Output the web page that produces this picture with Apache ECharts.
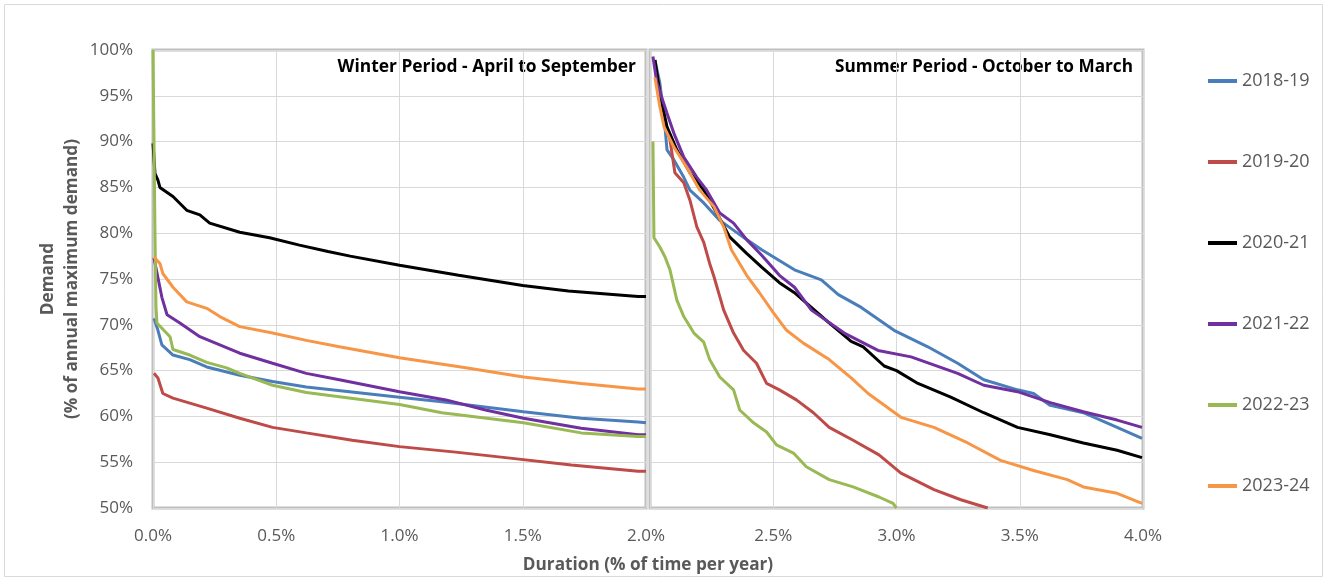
<!DOCTYPE html>
<html>
<head>
<meta charset="utf-8">
<script src="https://cdn.jsdelivr.net/npm/echarts@6/dist/echarts.min.js"></script>
<style>
html,body{margin:0;padding:0;background:#fff;}
#chart{width:1325px;height:581px;}
</style>
</head>
<body>
<div id="chart"></div>
<script>
// ---- Data (x = duration % of time per year, y = demand % of annual max) ----
var seriesNames = ['2018-19', '2019-20', '2020-21', '2021-22', '2022-23', '2023-24'];
var seriesColors = ['#4A7EBB', '#BE4B48', '#000000', '#7030A0', '#98B954', '#F79646'];

var xTicksWinter = [0, 0.5, 1.0, 1.5, 2.0];
var xTicksSummer = [2.0, 2.5, 3.0, 3.5, 4.0];
var yTicks = [50, 55, 60, 65, 70, 75, 80, 85, 90, 95, 100];

// Winter period (April to September), plotted 0% - 2%
var winter_2018_19 = [[0.004,70.7],[0.02,69.4],[0.036,67.8],[0.081,66.7],[0.149,66.2],[0.218,65.4],[0.352,64.5],[0.485,63.8],[0.622,63.2],[1.0,62.1],[1.172,61.6],[1.503,60.5],[1.737,59.8],[1.968,59.4],[2.0,59.3]];
var winter_2019_20 = [[0.004,64.7],[0.02,64.2],[0.04,62.5],[0.081,62.0],[0.218,60.9],[0.352,59.8],[0.485,58.8],[0.622,58.2],[0.808,57.4],[1.0,56.7],[1.228,56.1],[1.43,55.5],[1.697,54.7],[1.968,54.0],[2.0,54.0]];
var winter_2020_21 = [[0.0,89.8],[0.008,86.5],[0.02,85.8],[0.028,85.0],[0.081,84.0],[0.137,82.5],[0.19,82.0],[0.23,81.1],[0.352,80.1],[0.473,79.5],[0.594,78.7],[0.71,78.0],[0.8,77.5],[1.0,76.5],[1.24,75.4],[1.5,74.3],[1.685,73.7],[1.968,73.1],[2.0,73.1]];
var winter_2021_22 = [[0.004,77.3],[0.036,73.0],[0.057,71.1],[0.109,70.2],[0.19,68.7],[0.271,67.8],[0.352,66.9],[0.485,65.8],[0.622,64.7],[0.756,64.0],[1.0,62.7],[1.188,61.8],[1.349,60.7],[1.503,59.8],[1.737,58.7],[1.968,58.0],[2.0,58.0]];
var winter_2022_23 = [[0.0,100],[0.004,90],[0.008,80],[0.012,72],[0.016,70.2],[0.069,68.7],[0.081,67.3],[0.149,66.7],[0.218,65.9],[0.299,65.3],[0.352,64.7],[0.485,63.4],[0.622,62.6],[1.0,61.3],[1.172,60.4],[1.503,59.3],[1.737,58.2],[1.968,57.8],[2.0,57.8]];
var winter_2023_24 = [[0.004,77.4],[0.028,76.7],[0.04,75.6],[0.081,74.1],[0.137,72.5],[0.218,71.8],[0.271,70.9],[0.352,69.8],[0.485,69.1],[0.622,68.3],[0.756,67.6],[1.0,66.4],[1.269,65.3],[1.503,64.3],[1.737,63.6],[1.968,63.0],[2.0,63.0]];

// Summer period (October to March), plotted 2% - 4%
var summer_2018_19 = [[2.02,98.9],[2.04,96.4],[2.057,92.7],[2.069,89.1],[2.097,88.0],[2.137,86.1],[2.162,84.7],[2.218,83.3],[2.283,81.4],[2.392,79.3],[2.453,78.2],[2.586,76.0],[2.695,74.9],[2.764,73.3],[2.857,71.9],[2.99,69.4],[3.127,67.6],[3.248,65.8],[3.354,64.0],[3.491,62.9],[3.556,62.5],[3.624,61.2],[3.758,60.4],[3.895,58.8],[3.996,57.6]];
var summer_2019_20 = [[2.02,98.7],[2.057,92.7],[2.081,90.2],[2.101,86.6],[2.137,85.5],[2.162,83.6],[2.19,80.7],[2.218,79.0],[2.242,76.7],[2.259,75.3],[2.299,71.6],[2.339,69.1],[2.38,67.2],[2.432,65.8],[2.473,63.6],[2.525,62.9],[2.594,61.8],[2.663,60.4],[2.727,58.8],[2.824,57.4],[2.929,55.8],[3.018,53.8],[3.152,52.0],[3.261,50.9],[3.37,50.0]];
var summer_2020_21 = [[2.02,98.9],[2.04,95.3],[2.069,91.6],[2.109,89.1],[2.162,86.6],[2.218,84.7],[2.271,82.2],[2.323,79.6],[2.392,77.8],[2.453,76.3],[2.525,74.6],[2.586,73.5],[2.723,70.3],[2.816,68.2],[2.865,67.6],[2.95,65.5],[3.0,65.0],[3.087,63.6],[3.22,62.1],[3.354,60.4],[3.491,58.8],[3.624,58.0],[3.758,57.1],[3.895,56.3],[3.996,55.5]];
var summer_2021_22 = [[2.012,99.3],[2.028,96.4],[2.069,93.1],[2.097,90.9],[2.137,88.3],[2.19,86.1],[2.23,84.7],[2.283,82.2],[2.339,81.1],[2.392,79.3],[2.453,77.6],[2.525,75.4],[2.586,74.1],[2.655,71.6],[2.788,69.1],[2.925,67.2],[3.059,66.5],[3.248,64.7],[3.354,63.4],[3.491,62.7],[3.624,61.5],[3.758,60.5],[3.895,59.6],[3.996,58.8]];
var summer_2022_23 = [[2.012,90.0],[2.016,79.5],[2.04,78.5],[2.061,77.4],[2.081,76.0],[2.109,72.7],[2.137,70.9],[2.178,69.1],[2.218,68.1],[2.242,66.2],[2.283,64.3],[2.339,62.9],[2.364,60.7],[2.42,59.3],[2.473,58.3],[2.513,56.9],[2.582,56.0],[2.634,54.5],[2.727,53.1],[2.824,52.3],[2.929,51.2],[2.986,50.5],[3.0,50.0]];
var summer_2023_24 = [[2.02,97.0],[2.04,93.8],[2.057,91.6],[2.097,89.4],[2.149,87.2],[2.202,84.7],[2.259,82.9],[2.299,80.7],[2.33,78.2],[2.392,75.4],[2.444,73.5],[2.501,71.3],[2.554,69.4],[2.622,68.0],[2.727,66.2],[2.816,64.2],[2.885,62.5],[3.018,59.9],[3.152,58.8],[3.289,57.1],[3.422,55.2],[3.556,54.1],[3.693,53.1],[3.758,52.3],[3.895,51.6],[3.996,50.5]];

var winterData = [winter_2018_19, winter_2019_20, winter_2020_21, winter_2021_22, winter_2022_23, winter_2023_24];
var summerData = [summer_2018_19, summer_2019_20, summer_2020_21, summer_2021_22, summer_2022_23, summer_2023_24];

// ---- Chart ----
var FONT = '"Open Sans", "Liberation Sans", Arial, sans-serif';
var GRAY = '#595959';
var chart = echarts.init(document.getElementById('chart'), null, {renderer: 'canvas'});

function xAxisFor(idx, ticks) {
  return {
    type: 'value', gridIndex: idx,
    min: ticks[0], max: ticks[ticks.length - 1], interval: 0.5,
    axisLine: {show: false}, axisTick: {show: false},
    splitLine: {show: true, lineStyle: {color: '#d9d9d9', width: 1}},
    axisLabel: {
      show: true, margin: 20, color: GRAY, fontSize: 17, fontFamily: FONT,
      showMinLabel: idx === 0, showMaxLabel: true,
      formatter: function (v) { return v.toFixed(1) + '%'; }
    }
  };
}
function yAxisFor(idx) {
  return {
    type: 'value', gridIndex: idx,
    min: yTicks[0], max: yTicks[yTicks.length - 1], interval: 5,
    axisLine: {show: false}, axisTick: {show: false},
    splitLine: {show: true, lineStyle: {color: '#d9d9d9', width: 1}},
    axisLabel: {
      show: idx === 0, margin: 20, color: GRAY, fontSize: 17, fontFamily: FONT,
      formatter: function (v) { return v + '%'; }
    }
  };
}

var series = [];
seriesNames.forEach(function (name, i) {
  series.push({
    name: name, type: 'line', xAxisIndex: 0, yAxisIndex: 0,
    data: winterData[i], showSymbol: false, symbol: 'none',
    color: seriesColors[i],
    lineStyle: {color: seriesColors[i], width: 3}, z: 2 + i, animation: false
  });
});
seriesNames.forEach(function (name, i) {
  series.push({
    name: name, type: 'line', xAxisIndex: 1, yAxisIndex: 1,
    data: summerData[i], showSymbol: false, symbol: 'none',
    color: seriesColors[i],
    lineStyle: {color: seriesColors[i], width: 3}, z: 2 + i, animation: false
  });
});

var option = {
  animation: false,
  backgroundColor: '#ffffff',
  grid: [
    {left: 153, top: 50, width: 493, height: 458, show: true, borderColor: '#bfbfbf', borderWidth: 3, backgroundColor: 'transparent'},
    {left: 650, top: 50, width: 493, height: 458, show: true, borderColor: '#bfbfbf', borderWidth: 3, backgroundColor: 'transparent'}
  ],
  xAxis: [xAxisFor(0, xTicksWinter), xAxisFor(1, xTicksSummer)],
  yAxis: [yAxisFor(0), yAxisFor(1)],
  legend: {
    orient: 'vertical', left: 1208, top: 72, padding: 0,
    itemWidth: 29, itemHeight: 4, itemGap: 63, icon: 'rect',
    textStyle: {fontSize: 18, color: GRAY, fontFamily: FONT},
    data: seriesNames
  },
  graphic: [
    {type: 'rect', shape: {x: 4.5, y: 4.5, width: 1318, height: 572}, style: {fill: 'none', stroke: '#d9d9d9', lineWidth: 1}, silent: true, z: -10},
    {type: 'text', x: 636, y: 67, style: {text: 'Winter Period - April to September', textAlign: 'right', textVerticalAlign: 'middle', font: 'bold 17.4px ' + FONT, fill: '#000'}},
    {type: 'text', x: 1133, y: 67, style: {text: 'Summer Period - October to March', textAlign: 'right', textVerticalAlign: 'middle', font: 'bold 17.2px ' + FONT, fill: '#000'}},
    {type: 'text', x: 648, y: 565, style: {text: 'Duration (% of time per year)', textAlign: 'center', textVerticalAlign: 'middle', font: 'bold 17.2px ' + FONT, fill: GRAY}},
    {type: 'text', x: 60, y: 279, rotation: Math.PI / 2, style: {text: 'Demand\n(% of annual maximum demand)', textAlign: 'center', textVerticalAlign: 'middle', lineHeight: 24, font: 'bold 17.2px ' + FONT, fill: GRAY}}
  ],
  series: series
};
chart.setOption(option);
</script>
</body>
</html>
